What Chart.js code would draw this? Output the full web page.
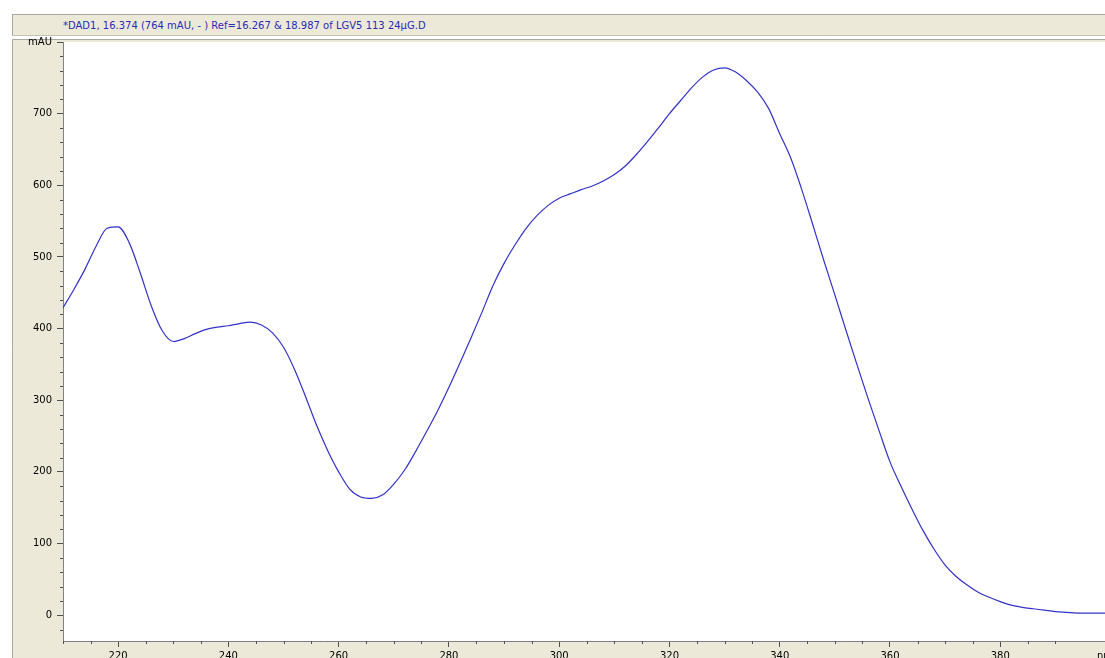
<!DOCTYPE html>
<html>
<head>
<meta charset="utf-8">
<script src="https://cdn.jsdelivr.net/npm/chart.js@4.4.1/dist/chart.umd.min.js"></script>
<style>
    body { margin: 0; background: #ffffff; }
    #wrap { position: relative; width: 1105px; height: 658px; overflow: hidden; }
    #chart { position: absolute; left: 0; top: 0; }
    #titlebar {
        position: absolute; left: 12px; top: 14px; width: 1093px; height: 22px;
        background: #ECE9D8; border-top: 1px solid #a8a8a0; border-left: 1px solid #a8a8a0;
        border-bottom: 1px solid #c4c2b4;
        font: 10px "DejaVu Sans", sans-serif; color: #2a2ab8;
        line-height: 22px; padding-left: 50px; box-sizing: border-box; white-space: nowrap;
    }
</style>
</head>
<body>
<div id="wrap">
    <canvas id="chart" width="1105" height="658"></canvas>
    <div id="titlebar">*DAD1, 16.374 (764 mAU, - ) Ref=16.267 &amp; 18.987 of LGV5 113 24µG.D</div>
</div>
<script>
// wavelength (nm) and absorbance (mAU)
let wavelengths = [210, 212, 214, 216, 218, 220, 222, 224, 226, 228,
    230, 232, 234, 236, 238, 240, 242, 244, 246, 248,
    250, 252, 254, 256, 258, 260, 262, 264, 266, 268,
    270, 272, 274, 276, 278, 280, 282, 284, 286, 288,
    290, 292, 294, 296, 298, 300, 302, 304, 306, 308,
    310, 312, 314, 316, 318, 320, 322, 324, 326, 328,
    330, 332, 334, 336, 338, 340, 342, 344, 346, 348,
    350, 352, 354, 356, 358, 360, 362, 364, 366, 368,
    370, 372, 374, 376, 378, 380, 382, 384, 386, 388,
    390, 392, 394, 396, 398, 400];
let absorbance = [429, 455, 483, 515, 540, 542, 520, 478, 432, 397,
    382, 386, 393, 399, 402, 404, 407, 409, 405, 394,
    374, 343, 305, 265, 230, 200, 176, 165, 163, 168,
    183, 203, 229, 257, 286, 318, 352, 387, 423, 460,
    491, 517, 540, 558, 572, 582, 588, 594, 599, 606,
    615, 627, 643, 661, 680, 700, 718, 736, 751, 761,
    764, 758, 746, 730, 707, 672, 638, 594, 545, 495,
    447, 398, 350, 303, 258, 214, 180, 148, 118, 92,
    70, 54, 42, 32, 25, 19, 14, 11, 9, 7,
    5, 4, 3, 3, 3, 3];

let xMin = 210, xMax = 399, xMajor = 20, xMinor = 5;
let yMin = -36, yMax = 800, yMajor = 100, yMinor = 20;
let xUnit = 'nm', yUnit = 'mAU';

let points = [];
for (let i = 0; i < wavelengths.length; i++) {
    points.push({ x: wavelengths[i], y: absorbance[i] });
}

const beige = '#ECE9D8';
const tickColor = '#505050';

// panel background + minor tick marks
const panelPlugin = {
    id: 'panel',
    beforeDraw(chart) {
        let c = chart.ctx, a = chart.chartArea;
        c.save();
        c.fillStyle = '#ffffff';
        c.fillRect(0, 0, chart.width, chart.height);
        c.fillStyle = beige;
        c.fillRect(12, 39, chart.width - 12, chart.height - 39);
        c.fillStyle = '#ffffff';
        c.fillRect(a.left, a.top, a.right - a.left, a.bottom - a.top);
        c.strokeStyle = '#a8a8a0';
        c.lineWidth = 1;
        c.beginPath();
        c.moveTo(12.5, chart.height);
        c.lineTo(12.5, 39.5);
        c.lineTo(chart.width, 39.5);
        c.stroke();
        c.restore();
    },
    afterDraw(chart) {
        let c = chart.ctx, a = chart.chartArea;
        let xs = chart.scales.x, ys = chart.scales.y;
        c.save();
        c.strokeStyle = tickColor;
        c.lineWidth = 1;
        c.beginPath();
        xs.ticks.forEach(function (t) {
            if (t.value % xMajor !== 0 && t.value % xMinor === 0) {
                let px = Math.round(xs.getPixelForValue(t.value)) + 0.5;
                c.moveTo(px, a.bottom);
                c.lineTo(px, a.bottom + 3);
            }
        });
        ys.ticks.forEach(function (t) {
            if (t.value % yMajor !== 0 && t.value % yMinor === 0) {
                let py = Math.round(ys.getPixelForValue(t.value)) + 0.5;
                c.moveTo(a.left - 3, py);
                c.lineTo(a.left, py);
            }
        });
        c.stroke();
        c.restore();
    }
};

const font = { family: 'DejaVu Sans', size: 10 };

new Chart(document.getElementById('chart'), {
    type: 'scatter',
    data: {
        datasets: [{
            data: points,
            showLine: true,
            borderColor: '#3232c8',
            borderWidth: 1.2,
            pointRadius: 0,
            cubicInterpolationMode: 'monotone',
            fill: false
        }]
    },
    options: {
        responsive: false,
        animation: false,
        layout: { autoPadding: false, padding: { left: 13, top: 42, right: 0, bottom: 0 } },
        plugins: { legend: { display: false }, tooltip: { enabled: false } },
        scales: {
            x: {
                type: 'linear',
                min: xMin, max: xMax,
                afterFit: function (s) { s.height = 17; s.paddingLeft = 0; s.paddingRight = 0; },
                border: { color: '#808080' },
                grid: {
                    drawOnChartArea: false, tickLength: 6,
                    color: function (ctx) { return ctx.tick && ctx.tick.value % xMajor === 0 ? tickColor : 'rgba(0,0,0,0)'; }
                },
                ticks: {
                    stepSize: xMinor, autoSkip: false, maxRotation: 0, padding: 3,
                    includeBounds: true, color: '#000', font: font,
                    callback: function (v) {
                        if (v === xMax) return xUnit;
                        return v % xMajor === 0 ? String(v) : '';
                    }
                }
            },
            y: {
                type: 'linear',
                min: yMin, max: yMax,
                afterFit: function (s) { s.width = 50; s.paddingTop = 0; s.paddingBottom = 0; },
                border: { color: '#808080' },
                grid: {
                    drawOnChartArea: false, tickLength: 6,
                    color: function (ctx) {
                        if (!ctx.tick) return 'rgba(0,0,0,0)';
                        return (ctx.tick.value % yMajor === 0 || ctx.tick.value === yMax) ? tickColor : 'rgba(0,0,0,0)';
                    }
                },
                ticks: {
                    stepSize: yMinor, autoSkip: false, padding: 5,
                    includeBounds: false, color: '#000', font: font,
                    callback: function (v) {
                        if (v === yMax) return yUnit;
                        return v % yMajor === 0 ? String(v) : '';
                    }
                }
            }
        }
    },
    plugins: [panelPlugin]
});
</script>
</body>
</html>
